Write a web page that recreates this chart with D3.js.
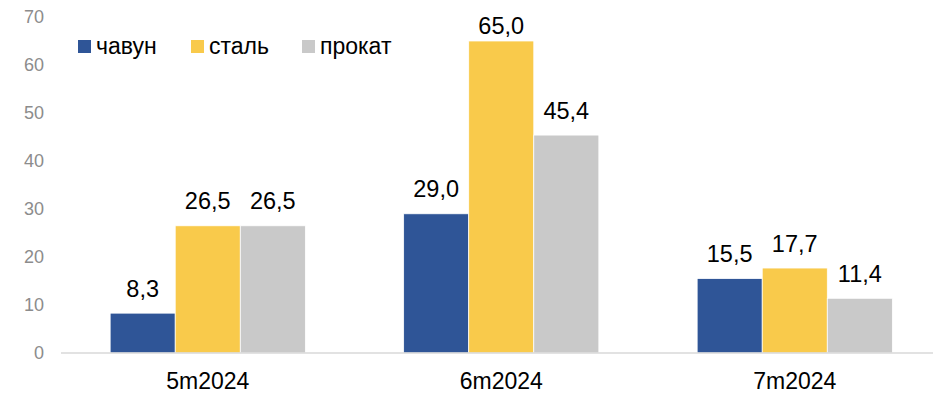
<!DOCTYPE html>
<html>
<head>
<meta charset="utf-8">
<script src="https://cdn.jsdelivr.net/npm/d3@7/dist/d3.min.js"></script>
<style>
  html, body { margin: 0; padding: 0; background: #fff; }
  svg { display: block; font-family: "Liberation Sans", Arial, sans-serif; }
</style>
</head>
<body>
<svg id="chart" width="933" height="394"></svg>
<script>
const categories = ["5m2024", "6m2024", "7m2024"];
const seriesNames = ["чавун", "сталь", "прокат"];
const pigIron = [8.3, 29.0, 15.5];
const steel = [26.5, 65.0, 17.7];
const rolled = [26.5, 45.4, 11.4];
const yTicks = [0, 10, 20, 30, 40, 50, 60, 70];
const seriesColors = ["#2F5597", "#F9CA4B", "#C9C9C9"];

const seriesValues = [pigIron, steel, rolled];

const svg = d3.select("#chart");
const margin = { left: 61, right: -8.5, top: 17, bottom: 41 };
const W = 933, H = 394;

const x = d3.scaleBand()
  .domain(categories)
  .range([margin.left, W - margin.right])
  .paddingInner(0.335)
  .paddingOuter(0.1675);

const xs = d3.scaleBand()
  .domain(seriesNames)
  .range([0, x.bandwidth()]);

const y = d3.scaleLinear()
  .domain([0, 70])
  .range([H - margin.bottom, margin.top]);

// y tick labels (no axis line, no gridlines)
const yAxis = d3.axisLeft(y).tickValues(yTicks).tickSize(0).tickPadding(0).tickFormat(d3.format("d"));
const gy = svg.append("g").attr("transform", "translate(44,0)").call(yAxis);
gy.select(".domain").remove();
gy.selectAll("text")
  .attr("fill", "#8C8C8C")
  .style("font-size", "18px")
  .style("font-family", "Liberation Sans, Arial, sans-serif");

// bars
const groups = svg.append("g").selectAll("g")
  .data(categories)
  .join("g")
  .attr("transform", d => `translate(${x(d)},0)`);

groups.selectAll("rect")
  .data((d, i) => seriesNames.map((s, j) => ({ s, j, v: seriesValues[j][i] })))
  .join("rect")
  .attr("x", d => xs(d.s))
  .attr("width", xs.bandwidth())
  .attr("y", d => y(d.v))
  .attr("height", d => y(0) - y(d.v))
  .attr("fill", d => seriesColors[d.j])
  .attr("stroke", "#ffffff")
  .attr("stroke-width", 0.75);

// value labels, kept inside the top of the plot area
groups.selectAll("text.val")
  .data((d, i) => seriesNames.map((s, j) => ({ s, j, v: seriesValues[j][i] })))
  .join("text")
  .attr("class", "val")
  .attr("x", d => xs(d.s) + xs.bandwidth() / 2)
  .attr("y", d => Math.max(y(d.v) - 16.5, 33.5))
  .attr("text-anchor", "middle")
  .attr("fill", "#000")
  .style("font-size", "23.5px")
  .text(d => d3.format(".1f")(d.v).replace(".", ","));

// x axis
const xAxis = d3.axisBottom(x).tickSize(0).tickPadding(0);
const gx = svg.append("g").attr("transform", `translate(0,${y(0)})`).call(xAxis);
gx.select(".domain").attr("stroke", "#D9D9D9").attr("stroke-width", 1.5)
  .attr("d", `M${margin.left},0H${W}`);
gx.selectAll("text")
  .attr("dy", null)
  .attr("y", 36)
  .attr("fill", "#000")
  .style("font-size", "23px")
  .style("font-family", "Liberation Sans, Arial, sans-serif");

// legend
const legendX = [78, 191, 302];
const legend = svg.append("g").selectAll("g")
  .data(seriesNames)
  .join("g")
  .attr("transform", (d, i) => `translate(${legendX[i]},40)`);
legend.append("rect")
  .attr("width", 13).attr("height", 13)
  .attr("fill", (d, i) => seriesColors[i]);
legend.append("text")
  .attr("x", 18).attr("y", 14)
  .attr("fill", "#000")
  .style("font-size", "23px")
  .text(d => d);
</script>
</body>
</html>
